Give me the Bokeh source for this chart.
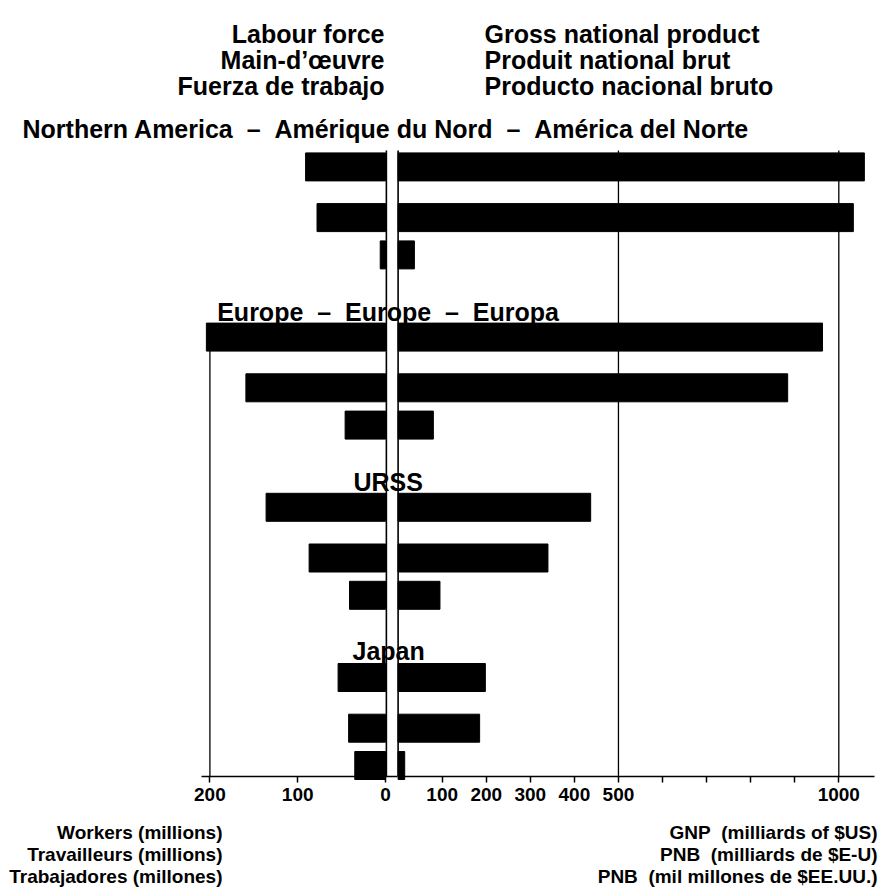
from bokeh.plotting import figure
from bokeh.models import Range1d, LinearAxis, FixedTicker, ColumnDataSource
from bokeh.core.properties import value
from bokeh.embed import file_html
from bokeh.resources import INLINE

# ---------------- data ----------------
NB = "\u00a0"
DASH = NB + NB + "\u2013" + NB + NB
regions = ["Northern America", "Europe", "URSS", "Japan"]
region_titles = ["Northern America" + DASH + "Am\u00e9rique du Nord" + DASH + "Am\u00e9rica del Norte",
                 "Europe" + DASH + "Europe" + DASH + "Europa", "URSS", "Japan"]
labour_force = [[91, 78, 6], [204, 159, 46], [136, 87, 41], [54, 42, 35]]      # millions of workers
gnp = [[1058, 1033, 37], [963, 884, 80], [437, 340, 95], [198, 185, 15]]      # milliards of $US
labour_ticks = [0, 100, 200]
gnp_ticks = [100, 200, 300, 400, 500, 600, 700, 800, 900, 1000]
gnp_labelled = [100, 200, 300, 400, 500, 1000]
gnp_grid = [500, 1000]
labour_grid = [200]

header_left = ["Labour force", "Main-d\u2019\u0153uvre", "Fuerza de trabajo"]
header_right = ["Gross national product", "Produit national brut", "Producto nacional bruto"]
footer_left = ["Workers (millions)", "Travailleurs (millions)", "Trabajadores (millones)"]
footer_right = ["GNP" + NB + NB + "(milliards of $US)", "PNB" + NB + NB + "(milliards de $E-U)",
                "PNB" + NB + NB + "(mil millones de $EE.UU.)"]

# ---------------- layout (page pixels) ----------------
W, H = 882, 890
G0, GS = 397.6, 0.4407      # page x of GNP zero, px per milliard
L0, LS = 385.0, 0.878       # page x of labour zero, px per million
AXIS_Y = 776
FONT = "Liberation Sans"

p = figure(width=W, height=H, output_backend="svg", toolbar_location=None,
           x_axis_type=None, y_axis_type=None,
           x_range=Range1d((0 - G0) / GS, (W - G0) / GS),
           y_range=Range1d(H, 0),
           min_border=0, min_border_left=0, min_border_right=0,
           min_border_top=0, min_border_bottom=0)
p.extra_x_ranges = {"labour": Range1d(L0 / LS, (L0 - W) / LS),
                    "px": Range1d(0, W)}
p.outline_line_color = None
p.background_fill_color = "white"
p.border_fill_color = "white"
p.xgrid.visible = False
p.ygrid.visible = False

# bar positions
ys, lab, gn = [], [], []
for gi in range(len(regions)):
    for bi, off in enumerate([0, 50.7, 88]):
        ys.append(166.4 + 170.2 * gi + off)
        lab.append(labour_force[gi][bi])
        gn.append(gnp[gi][bi])
src = ColumnDataSource(dict(y=ys, labour=lab, gnp=gn))

# grid lines
p.segment(x0=gnp_grid, x1=gnp_grid, y0=[150] * len(gnp_grid), y1=[AXIS_Y] * len(gnp_grid),
          line_color="black", line_width=1.3)
p.segment(x0=labour_grid, x1=labour_grid, y0=[325] * len(labour_grid), y1=[AXIS_Y] * len(labour_grid),
          line_color="black", line_width=1.3, x_range_name="labour")
# central double line
p.segment(x0=[-1], x1=[-1], y0=[150], y1=[AXIS_Y], line_color="black", line_width=1.6,
          x_range_name="labour")
p.segment(x0=[0], x1=[0], y0=[150], y1=[AXIS_Y], line_color="black", line_width=1.6)

# bars
p.hbar(y="y", left=0, right="gnp", height=28, source=src, color="black")
p.hbar(y="y", left=0, right="labour", height=28, source=src, color="black", x_range_name="labour")

# axes
def style_axis(ax):
    ax.fixed_location = AXIS_Y
    ax.axis_line_color = "black"
    ax.axis_line_width = 1.5
    ax.major_tick_line_color = "black"
    ax.major_tick_line_width = 1.5
    ax.major_tick_out = 6
    ax.major_tick_in = 0
    ax.minor_tick_line_color = None
    ax.major_label_standoff = 5
    ax.major_label_text_font = FONT
    ax.major_label_text_font_style = "bold"
    ax.major_label_text_font_size = "19px"
    ax.major_label_text_color = "black"

ax_g = LinearAxis(ticker=FixedTicker(ticks=gnp_ticks), bounds=(0, 1080))
ax_g.major_label_overrides = {t: (str(t) if t in gnp_labelled else "") for t in gnp_ticks}
style_axis(ax_g)
p.add_layout(ax_g, "below")

ax_l = LinearAxis(x_range_name="labour", ticker=FixedTicker(ticks=labour_ticks), bounds=(-14, 210))
style_axis(ax_l)
p.add_layout(ax_l, "below")

# texts
def txt(xs, ys_, texts, size, align):
    p.text(x=xs, y=ys_, text=texts, x_range_name="px", text_font=value(FONT),
           text_font_style="bold", text_font_size=size, text_align=align,
           text_baseline="alphabetic", text_color="black")

txt([384] * 3, [33, 59.5, 85], header_left, "25px", "right")
txt([484] * 3, [33, 59.5, 85], header_right, "25px", "left")
txt([22, 216.7, 353, 352], [128, 311.7, 481.7, 650], region_titles, "25px", "left")
txt([222] * 3, [832, 854, 876], footer_left, "19px", "right")
txt([877] * 3, [832, 854, 876], footer_right, "19px", "right")

open("out.html", "w").write(file_html(p, INLINE))
